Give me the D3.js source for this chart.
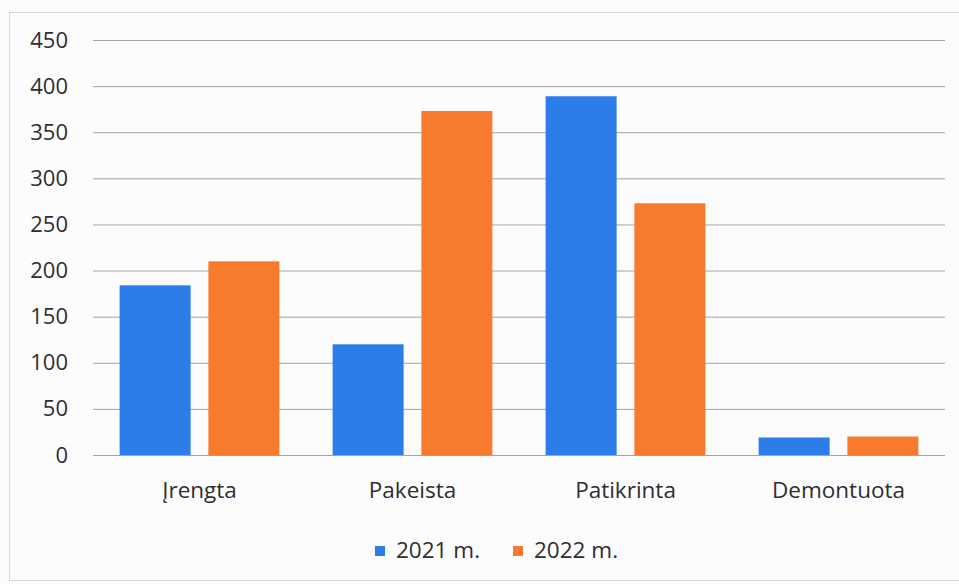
<!DOCTYPE html>
<html>
<head>
<meta charset="utf-8">
<script src="https://cdn.jsdelivr.net/npm/d3@7"></script>
<style>
  html, body { margin: 0; padding: 0; background: #fcfcfd; }
  svg { display: block; }
  text { font-family: "Open Sans", "Noto Sans", sans-serif; fill: #2e2e33; }
</style>
</head>
<body>
<svg id="chart" width="959" height="584"></svg>
<script>
const categories = ["Įrengta", "Pakeista", "Patikrinta", "Demontuota"];
const seriesNames = ["2021 m.", "2022 m."];
const values2021 = [184, 120, 389, 19];
const values2022 = [210, 373, 273, 20];
const yTicks = [0, 50, 100, 150, 200, 250, 300, 350, 400, 450];
const seriesColors = ["#2c7de8", "#f87a2c"];

const svg = d3.select("#chart");
const W = 959, H = 584;

svg.append("rect").attr("x", 0).attr("y", 0).attr("width", W).attr("height", H).attr("fill", "#fcfcfd");
// outer chart border
svg.append("rect")
  .attr("x", 9.5).attr("y", 12.5).attr("width", W + 10).attr("height", 568)
  .attr("fill", "none").attr("stroke", "#d6d6dc").attr("stroke-width", 1);

const plotL = 93, plotR = 945;
const y = d3.scaleLinear().domain([0, 450]).range([455, 40]);
const x0 = d3.scaleBand().domain(categories).range([plotL, plotR]).paddingInner(0.25).paddingOuter(0.125);
const x1 = d3.scaleBand().domain(seriesNames).range([0, x0.bandwidth()]).paddingInner(0.2);

// gridlines
const yAxis = d3.axisLeft(y).tickValues(yTicks).tickSize(-(plotR - plotL)).tickPadding(25).tickFormat(d3.format("d"));
const gy = svg.append("g").attr("transform", `translate(${plotL},0)`).call(yAxis);
gy.select(".domain").remove();
gy.selectAll(".tick line").attr("stroke", "#a2a2ac").attr("stroke-width", 1);
gy.selectAll(".tick text").attr("font-size", 22).attr("fill", "#2e2e33");

// bars
const data = categories.map((c, i) => ({ cat: c, vals: [values2021[i], values2022[i]] }));
const groups = svg.append("g").selectAll("g").data(data).join("g")
  .attr("transform", d => `translate(${x0(d.cat)},0)`);
groups.selectAll("rect").data(d => d.vals.map((v, j) => ({ s: seriesNames[j], v, j })))
  .join("rect")
  .attr("x", d => x1(d.s))
  .attr("width", x1.bandwidth())
  .attr("y", d => y(d.v))
  .attr("height", d => y(0) - y(d.v))
  .attr("fill", d => seriesColors[d.j]);

// x axis labels
const xAxis = d3.axisBottom(x0).tickSize(0).tickPadding(27);
const gx = svg.append("g").attr("transform", `translate(0,${y(0)})`).call(xAxis);
gx.select(".domain").remove();
gx.selectAll(".tick text").attr("font-size", 22.5).attr("fill", "#2e2e33");

// legend
const legendX = [375, 513];
const leg = svg.append("g");
seriesNames.forEach((s, i) => {
  leg.append("rect").attr("x", legendX[i]).attr("y", 546).attr("width", 10).attr("height", 10).attr("fill", seriesColors[i]);
  leg.append("text").attr("x", legendX[i] + 21).attr("y", 558).attr("font-size", 22.5).text(s);
});
</script>
</body>
</html>
